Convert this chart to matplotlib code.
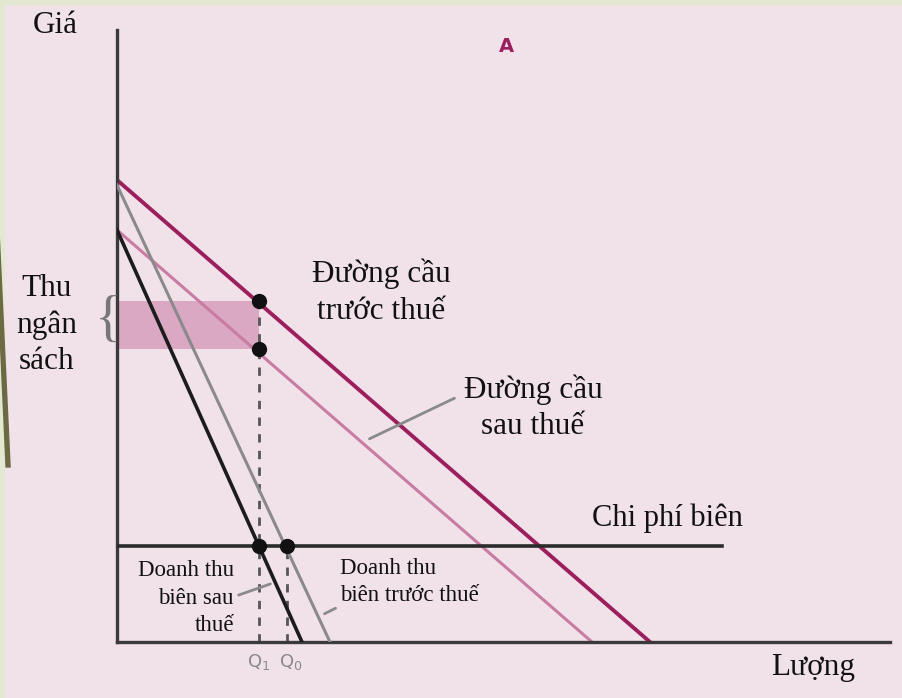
import matplotlib.pyplot as plt
from matplotlib.patches import Rectangle, Polygon

# demand and marginal revenue lines (quantity, price end points)
q_demand_before = [0, 53.3]
p_demand_before = [46.2, 0]
q_demand_after = [0, 47.5]
p_demand_after = [41.2, 0]
q_mr_before = [0, 21.3]
p_mr_before = [45.7, 0]
q_mr_after = [0, 18.5]
p_mr_after = [41.2, 0]

mc_price = 9.6
mc_qmax = 60.5

Q1 = 14.2
Q0 = 17.0
p_before_Q1 = 34.1
p_after_Q1 = 29.3

serif = ['Liberation Serif', 'DejaVu Serif']

fig = plt.figure(figsize=(9.02, 6.98), dpi=100)
fig.patch.set_facecolor('#e3e9d1')
fig.patches.append(Rectangle((5 / 902, 0), 1, 1 - 5 / 698, transform=fig.transFigure,
                             facecolor='#f1e2ea', edgecolor='none', zorder=-2))
fig.patches.append(Polygon([(0, 0.66), (0.012, 0.33), (0.006, 0.33), (0, 0.5)],
                           closed=True, transform=fig.transFigure,
                           facecolor='#6b6a45', edgecolor='none', zorder=-1))

ax = fig.add_axes([117 / 902, 56 / 698, 773 / 902, 612 / 698])
ax.set_facecolor('none')
ax.set_xlim(0, 77.3)
ax.set_ylim(0, 61.2)
for s in ['top', 'right']:
    ax.spines[s].set_visible(False)
for s in ['left', 'bottom']:
    ax.spines[s].set_color('#3a3a3a')
    ax.spines[s].set_linewidth(2.4)
ax.set_xticks([])
ax.set_yticks([])

# tax revenue band
ax.add_patch(Rectangle((0, p_after_Q1), Q1, p_before_Q1 - p_after_Q1,
                       facecolor='#dba8c3', edgecolor='none', zorder=1))

ax.plot(q_demand_after, p_demand_after, color='#c97ca3', lw=2.2, zorder=2)
ax.plot(q_demand_before, p_demand_before, color='#9c1f5d', lw=2.8, zorder=2)
ax.plot(q_mr_before, p_mr_before, color='#8a8a8a', lw=2.2, zorder=3)
ax.plot(q_mr_after, p_mr_after, color='#1c1c1c', lw=2.6, zorder=3)
ax.plot([0, mc_qmax], [mc_price, mc_price], color='#2b2b2b', lw=2.6, zorder=3)

ax.plot([Q1, Q1], [0, p_before_Q1], color='#555555', lw=2, dashes=(3, 3), zorder=2)
ax.plot([Q0, Q0], [0, mc_price], color='#555555', lw=2, dashes=(3, 3), zorder=2)

ax.plot([Q1, Q1], [p_before_Q1, p_after_Q1], 'o', color='#111111', ms=10, zorder=5)
ax.plot([Q1, Q0], [mc_price, mc_price], 'o', color='#111111', ms=10, zorder=5)

# labels
kw = dict(family=serif, color='#111111', clip_on=False)
ax.text(-6.2, 61.6, 'Giá', ha='center', va='center', fontsize=22.5, **kw)
ax.text(-7.0, 31.7, 'Thu\nngân\nsách', ha='center', va='center', fontsize=22.5,
        linespacing=1.32, **kw)
ax.text(-0.9, 32.0, '{', ha='center', va='center', fontsize=40, family=serif,
        color='#777777', clip_on=False)
ax.text(26.4, 35.0, 'Đường cầu\ntrước thuế', ha='center', va='center', fontsize=22.5,
        linespacing=1.35, **kw)
ax.text(41.6, 23.4, 'Đường cầu\nsau thuế', ha='center', va='center', fontsize=22.5,
        linespacing=1.3, **kw)
ax.text(55.0, 12.4, 'Chi phí biên', ha='center', va='center', fontsize=22, **kw)
ax.text(69.6, -2.6, 'Lượng', ha='center', va='center', fontsize=22.5, **kw)
ax.text(11.7, 4.4, 'Doanh thu\nbiên sau\nthuế', ha='right', va='center', fontsize=16.5,
        linespacing=1.38, **kw)
ax.text(22.3, 6.0, 'Doanh thu\nbiên trước thuế', ha='left', va='center', fontsize=16.5,
        linespacing=1.38, **kw)
ax.text(38.9, 59.5, 'A', ha='center', va='center', fontsize=14, fontweight='bold',
        color='#9c1f5d', clip_on=False)
ax.text(Q1, -2.0, 'Q$_1$', ha='center', va='center', fontsize=13, color='#8a8a8a',
        clip_on=False)
ax.text(Q0 + 0.4, -2.0, 'Q$_0$', ha='center', va='center', fontsize=13, color='#8a8a8a',
        clip_on=False)

# leader lines
lead = dict(arrowstyle='-', color='#8a8a8a', lw=2)
ax.annotate('', xy=(25.0, 20.2), xytext=(34.0, 24.5), arrowprops=lead)
ax.annotate('', xy=(15.6, 5.9), xytext=(11.9, 4.6), arrowprops=lead)
ax.annotate('', xy=(20.5, 2.7), xytext=(22.1, 3.5), arrowprops=lead)

fig.savefig('out.png', dpi=100, facecolor=fig.get_facecolor())
